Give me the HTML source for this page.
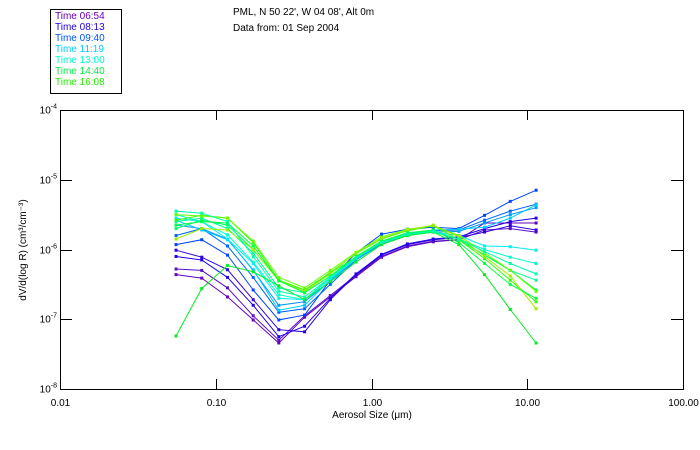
<!DOCTYPE html>
<html><head><meta charset="utf-8"><style>
body{margin:0;background:#fff;}
svg{display:block;font-family:"Liberation Sans",sans-serif;}
</style></head><body>
<svg id="chart" width="700" height="450" viewBox="0 0 700 450" xmlns="http://www.w3.org/2000/svg">
<rect width="700" height="450" fill="#fff"/>
<g>
<rect x="50.5" y="9.5" width="71" height="84" fill="#fff" stroke="#000"/>
<text x="55" y="19" font-size="10" fill="#6600bb">Time 06:54</text>
<text x="55" y="30" font-size="10" fill="#2200ee">Time 08:13</text>
<text x="55" y="41" font-size="10" fill="#0055ff">Time 09:40</text>
<text x="55" y="52" font-size="10" fill="#00ccff">Time 11:19</text>
<text x="55" y="63" font-size="10" fill="#00ffcc">Time 13:00</text>
<text x="55" y="74" font-size="10" fill="#00ee44">Time 14:40</text>
<text x="55" y="85" font-size="10" fill="#22ee00">Time 16:08</text>
</g>
<text x="233" y="15" font-size="10">PML, N 50 22', W 04 08', Alt 0m</text>
<text x="233" y="31" font-size="10">Data from: 01 Sep 2004</text>
<g id="axes"></g>
<g id="series"></g>
<text x="372" y="418" font-size="10" text-anchor="middle">Aerosol Size (μm)</text>
<text transform="translate(26,250) rotate(-90)" font-size="10" text-anchor="middle">dV/d(log R) (cm³/cm⁻³)</text>
</svg>
<script>
const xTickValues=[0.01,0.1,1,10,100];
const xTickLabels=["0.01","0.10","1.00","10.00","100.00"];
const yTickExps=[-4,-5,-6,-7,-8];
const sizes=[0.0556,0.0813,0.119,0.174,0.254,0.372,0.544,0.795,1.16,1.70,2.49,3.64,5.32,7.78,11.4];
const seriesColors=["#6600bb","#5a10c8","#3300dd","#2200ee","#0044ff","#0066ff","#0099ff","#00ccff","#00eeee","#00ffcc","#00ff99","#00ff66","#00ee22","#33ff00","#66ff00","#99ee00","#00ff44","#00ffaa"];
const s0654a=[-6.36,-6.41,-6.68,-7.01,-7.34,-6.97,-6.68,-6.39,-6.11,-5.96,-5.89,-5.86,-5.62,-5.62,-5.62];
const s0654b=[-6.28,-6.30,-6.55,-6.95,-7.30,-6.95,-6.66,-6.37,-6.10,-5.95,-5.88,-5.86,-5.72,-5.70,-5.75];
const s0813a=[-6.01,-6.11,-6.29,-6.72,-7.15,-7.18,-6.72,-6.36,-6.08,-5.93,-5.86,-5.83,-5.75,-5.66,-5.72];
const s0813b=[-6.10,-6.15,-6.40,-6.80,-7.25,-7.10,-6.70,-6.35,-6.07,-5.92,-5.85,-5.82,-5.70,-5.60,-5.55];
const s0940a=[-5.93,-5.86,-6.08,-6.58,-7.01,-6.94,-6.44,-6.05,-5.78,-5.71,-5.68,-5.70,-5.51,-5.31,-5.15];
const s0940b=[-5.80,-5.70,-5.95,-6.40,-6.90,-6.85,-6.50,-6.15,-5.90,-5.78,-5.73,-5.72,-5.58,-5.45,-5.35];
const s1019=[-5.65,-5.70,-5.85,-6.30,-6.80,-6.75,-6.45,-6.15,-5.92,-5.80,-5.75,-5.74,-5.62,-5.50,-5.40];
const s1119a=[-5.58,-5.72,-5.86,-6.29,-6.87,-6.80,-6.44,-6.13,-5.90,-5.77,-5.72,-5.71,-5.68,-5.55,-5.36];
const s1119b=[-5.55,-5.60,-5.85,-6.20,-6.70,-6.72,-6.42,-6.13,-5.90,-5.79,-5.75,-5.80,-5.95,-5.96,-6.01];
const s1300a=[-5.50,-5.60,-5.79,-6.18,-6.65,-6.72,-6.40,-6.11,-5.88,-5.80,-5.75,-5.85,-6.00,-6.11,-6.20];
const s1300b=[-5.60,-5.55,-5.70,-6.05,-6.55,-6.62,-6.38,-6.11,-5.89,-5.78,-5.74,-5.86,-6.08,-6.30,-6.44];
const s1400=[-5.70,-5.58,-5.65,-6.00,-6.44,-6.58,-6.34,-6.11,-5.90,-5.78,-5.73,-5.86,-6.08,-6.30,-6.58];
const s1440odd=[-7.24,-6.56,-6.23,-6.32,-6.52,-6.72,-6.46,-6.18,-5.93,-5.80,-5.75,-5.93,-6.36,-6.86,-7.34];
const s1520=[-5.58,-5.51,-5.55,-5.90,-6.44,-6.58,-6.33,-6.06,-5.85,-5.73,-5.66,-5.86,-6.13,-6.44,-6.75];
const s1608a=[-5.50,-5.52,-5.55,-5.88,-6.40,-6.55,-6.30,-6.04,-5.82,-5.71,-5.66,-5.80,-6.05,-6.30,-6.60];
const s1608b=[-5.85,-5.70,-5.72,-6.00,-6.45,-6.60,-6.35,-6.05,-5.84,-5.72,-5.65,-5.82,-6.10,-6.38,-6.85];
const s1440b=[-5.65,-5.60,-5.62,-5.95,-6.45,-6.62,-6.38,-6.10,-5.88,-5.76,-5.72,-5.90,-6.20,-6.50,-6.70];
const s1300c=[-5.45,-5.48,-5.60,-6.10,-6.60,-6.68,-6.40,-6.12,-5.90,-5.78,-5.74,-5.85,-6.03,-6.20,-6.35];
const allSeries=[s0654a,s0654b,s0813a,s0813b,s0940a,s0940b,s1019,s1119a,s1119b,s1300a,s1300b,s1400,s1440odd,s1520,s1608a,s1608b,s1440b,s1300c];

const L=60,R=683,T=110,B=389;
const NS="http://www.w3.org/2000/svg";
function xScale(v){return L+(Math.log10(v)+2)/4*(R-L);}
function yScale(logv){return T+(-4-logv)/4*(B-T);}
function mk(tag,attrs,parent){const e=document.createElementNS(NS,tag);for(const k in attrs)e.setAttribute(k,attrs[k]);parent.appendChild(e);return e;}
const axes=document.getElementById('axes');
const frame=mk('rect',{x:L+0.5,y:T+0.5,width:R-L,height:B-T,fill:'none',stroke:'#000'},axes);


xTickValues.forEach((v,i)=>{
  const x=Math.round(xScale(v))+0.5;
  const t1=mk('line',{x1:x,x2:x,y1:B,y2:B-10,stroke:'#000'},axes);
  
  
  const t2=mk('line',{x1:x,x2:x,y1:T,y2:T+10,stroke:'#000'},axes);
  
  
  const lb=mk('text',{x:x,y:B+17,'font-size':10,'text-anchor':'middle'},axes);
  lb.textContent=xTickLabels[i];
  
  
});
yTickExps.forEach(e=>{
  const y=Math.round(yScale(e))+0.5;
  const t1=mk('line',{x1:L,x2:L+12,y1:y,y2:y,stroke:'#000'},axes);
  
  
  const t2=mk('line',{x1:R-12,x2:R,y1:y,y2:y,stroke:'#000'},axes);
  
  
  const lb=mk('text',{x:L-3,y:y+3,'font-size':10,'text-anchor':'end'},axes);
  lb.innerHTML='10<tspan dy="-5" font-size="7">'+e+'</tspan>';
  
  
});
const sg=document.getElementById('series');
allSeries.forEach((s,i)=>{
  const g=mk('g',{},sg);
  
  
  const pts=s.map((v,j)=>xScale(sizes[j]).toFixed(1)+','+yScale(v).toFixed(1)).join(' ');
  mk('polyline',{points:pts,fill:'none',stroke:seriesColors[i],'stroke-width':1},g);
  s.forEach((v,j)=>{
    const m=mk('rect',{x:xScale(sizes[j])-1.5,y:yScale(v)-1.5,width:3,height:3,fill:seriesColors[i]},g);
    
    
  });
});
</script>
</body></html>
